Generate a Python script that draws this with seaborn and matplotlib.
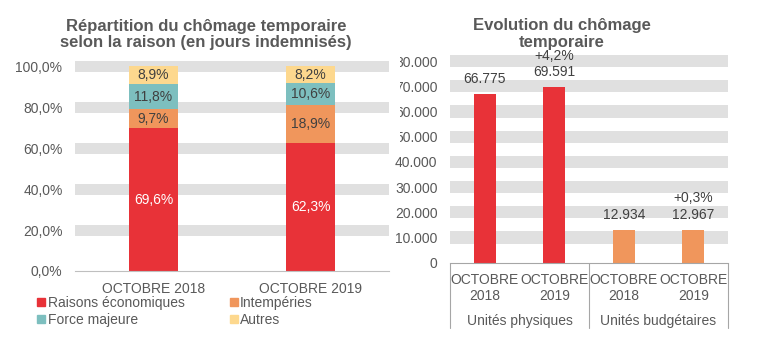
import numpy as np
import pandas as pd
import matplotlib.pyplot as plt
import seaborn as sns
from matplotlib.lines import Line2D
from matplotlib.transforms import Bbox, TransformedBbox

# left chart: share of days per reason (%)
months = ["OCTOBRE 2018", "OCTOBRE 2019"]
reasons = ["Raisons économiques", "Intempéries", "Force majeure", "Autres"]
raisons_eco = [69.6, 62.3]
intemperies = [9.7, 18.9]
force_majeure = [11.8, 10.6]
autres = [8.9, 8.2]
pct_ticks = [0, 20, 40, 60, 80, 100]

# right chart: number of temporary unemployed
units = ["Unités physiques", "Unités physiques", "Unités budgétaires", "Unités budgétaires"]
periods = ["OCTOBRE\n2018", "OCTOBRE\n2019", "OCTOBRE\n2018", "OCTOBRE\n2019"]
chomeurs = [66775, 69591, 12934, 12967]
count_ticks = [0, 10000, 20000, 30000, 40000, 50000, 60000, 70000, 80000]

RED, ORANGE, TEAL, YELLOW = "#E83238", "#F0965C", "#7DBFBF", "#FDD88E"
GREY_TXT = "#595959"
BAND = "#E0E0E0"
LINE = "#BFBFBF"

sns.set_style("white")
plt.rcParams["font.family"] = ["Liberation Sans", "DejaVu Sans"]
plt.rcParams["font.size"] = 10

W, H = 761, 360
fig = plt.figure(figsize=(W / 100, H / 100), dpi=100)


def px_axes(x0, y_top, x1, y_bot):
    return fig.add_axes([x0 / W, 1 - y_bot / H, (x1 - x0) / W, (y_bot - y_top) / H])


# ---------------- left chart ----------------
ax1 = px_axes(75, 58, 389, 271)
ax1.set_ylim(0, 104)
for t in pct_ticks[1:]:
    ax1.axhspan(t - 2.7, t + 2.7, color=BAND, lw=0, zorder=0)

colors = dict(zip(reasons, [RED, ORANGE, TEAL, YELLOW]))
segs = np.array([raisons_eco, intemperies, force_majeure, autres])
cum = np.cumsum(segs, axis=0)
for i in reversed(range(len(reasons))):
    sns.barplot(x=months, y=cum[i], color=colors[reasons[i]], width=0.31,
                saturation=1, linewidth=0, ax=ax1, zorder=2)

for i in range(len(reasons)):
    for j in range(len(months)):
        c = "white" if i == 0 else "#404040"
        ax1.text(j, cum[i, j] - segs[i, j] / 2, f"{segs[i, j]:.1f}%".replace(".", ","),
                 ha="center", va="center", color=c, fontsize=10, zorder=3)

ax1.set_xlim(-0.5, 1.5)
ax1.set_yticks(pct_ticks)
ax1.set_yticklabels([f"{t:.1f}%".replace(".", ",") for t in pct_ticks])
ax1.tick_params(axis="y", length=0, pad=9, labelcolor=GREY_TXT, labelsize=10)
ax1.tick_params(axis="x", length=0, pad=8, labelcolor=GREY_TXT, labelsize=10)
ax1.set_xlabel("")
ax1.set_ylabel("")
for s in ["top", "right", "left"]:
    ax1.spines[s].set_visible(False)
ax1.spines["bottom"].set_color(LINE)
ax1.spines["bottom"].set_linewidth(0.8)

fig.text(206 / W, 1 - 34.5 / H,
         "Répartition du chômage temporaire\nselon la raison (en jours indemnisés)",
         ha="center", va="center", fontsize=12, fontweight="bold", color=GREY_TXT,
         linespacing=1.1)

# legend is filled row by row in the original
order = [0, 2, 1, 3]
handles = [Line2D([], [], marker="s", ls="", color=colors[reasons[k]], markersize=5.5) for k in order]
fig.legend(handles, [reasons[k] for k in order], ncol=2, loc="upper left",
           bbox_to_anchor=(38 / W, 1 - 296 / H), frameon=False, fontsize=10,
           labelcolor=GREY_TXT, handlelength=0.5, handletextpad=0.2,
           columnspacing=3.3, labelspacing=0.2, borderpad=0, borderaxespad=0)

# ---------------- right chart ----------------
ax2 = px_axes(450, 53.5, 728, 262.7)
ax2.set_ylim(0, 83000)
for t in count_ticks[1:]:
    ax2.axhspan(t - 2400, t + 2400, color=BAND, lw=0, zorder=0)

keys = [f"{u} {p}" for u, p in zip(units, periods)]
df2 = pd.DataFrame({"key": keys, "valeur": chomeurs, "unite": units})
sns.barplot(data=df2, x="key", y="valeur", hue="unite",
            palette={"Unités physiques": RED, "Unités budgétaires": ORANGE},
            dodge=False, width=0.31, saturation=1, linewidth=0,
            legend=False, ax=ax2, zorder=2)


def fmt_n(v):
    return f"{v:,}".replace(",", ".")


for i, v in enumerate(chomeurs):
    lab = fmt_n(v)
    if i % 2 == 1:
        ch = (v / chomeurs[i - 1] - 1) * 100
        lab = f"{ch:+.1f}%".replace(".", ",") + "\n" + lab
    ax2.annotate(lab, (i, v), xytext=(0, 6), textcoords="offset points",
                 ha="center", va="bottom", color="#404040", fontsize=10, zorder=3)

ax2.set_xlim(-0.5, 3.5)
ax2.set_xticks(range(len(periods)))
ax2.set_xticklabels(periods)
ax2.set_yticks(count_ticks)
ax2.set_yticklabels([fmt_n(t) for t in count_ticks])
ax2.tick_params(axis="y", length=0, pad=9, labelcolor=GREY_TXT, labelsize=10)
ax2.tick_params(axis="x", length=0, pad=7.5, labelcolor=GREY_TXT, labelsize=10)
ax2.set_xlabel("")
ax2.set_ylabel("")
for s in ["top", "right", "left"]:
    ax2.spines[s].set_visible(False)
ax2.spines["bottom"].set_color("#A6A6A6")
ax2.spines["bottom"].set_linewidth(0.8)

# the upper y labels are cut by the left chart in the original
clip = TransformedBbox(Bbox([[399.5 / W, 0], [1, 1]]), fig.transFigure)
for t, lab in zip(count_ticks, ax2.get_yticklabels()):
    if t >= 50000:
        lab.set_clip_box(clip)
        lab.set_clip_on(True)

# group separators and group names
xt = ax2.get_xaxis_transform()
y_low = -(328 - 262.7) / (262.7 - 53.5)
for xs in [-0.5, 1.5, 3.5]:
    ax2.plot([xs, xs], [0, y_low], transform=xt, color="#A6A6A6", lw=0.8, clip_on=False)
for xg, name in [(0.5, "Unités physiques"), (2.5, "Unités budgétaires")]:
    ax2.text(xg, -(320.5 - 262.7) / (262.7 - 53.5), name, transform=xt,
             ha="center", va="center", color=GREY_TXT, fontsize=10)

fig.text(562 / W, 1 - 34 / H, "Evolution du chômage\ntemporaire",
         ha="center", va="center", fontsize=12, fontweight="bold", color=GREY_TXT,
         linespacing=1.1)

fig.savefig("out.png", dpi=100)
